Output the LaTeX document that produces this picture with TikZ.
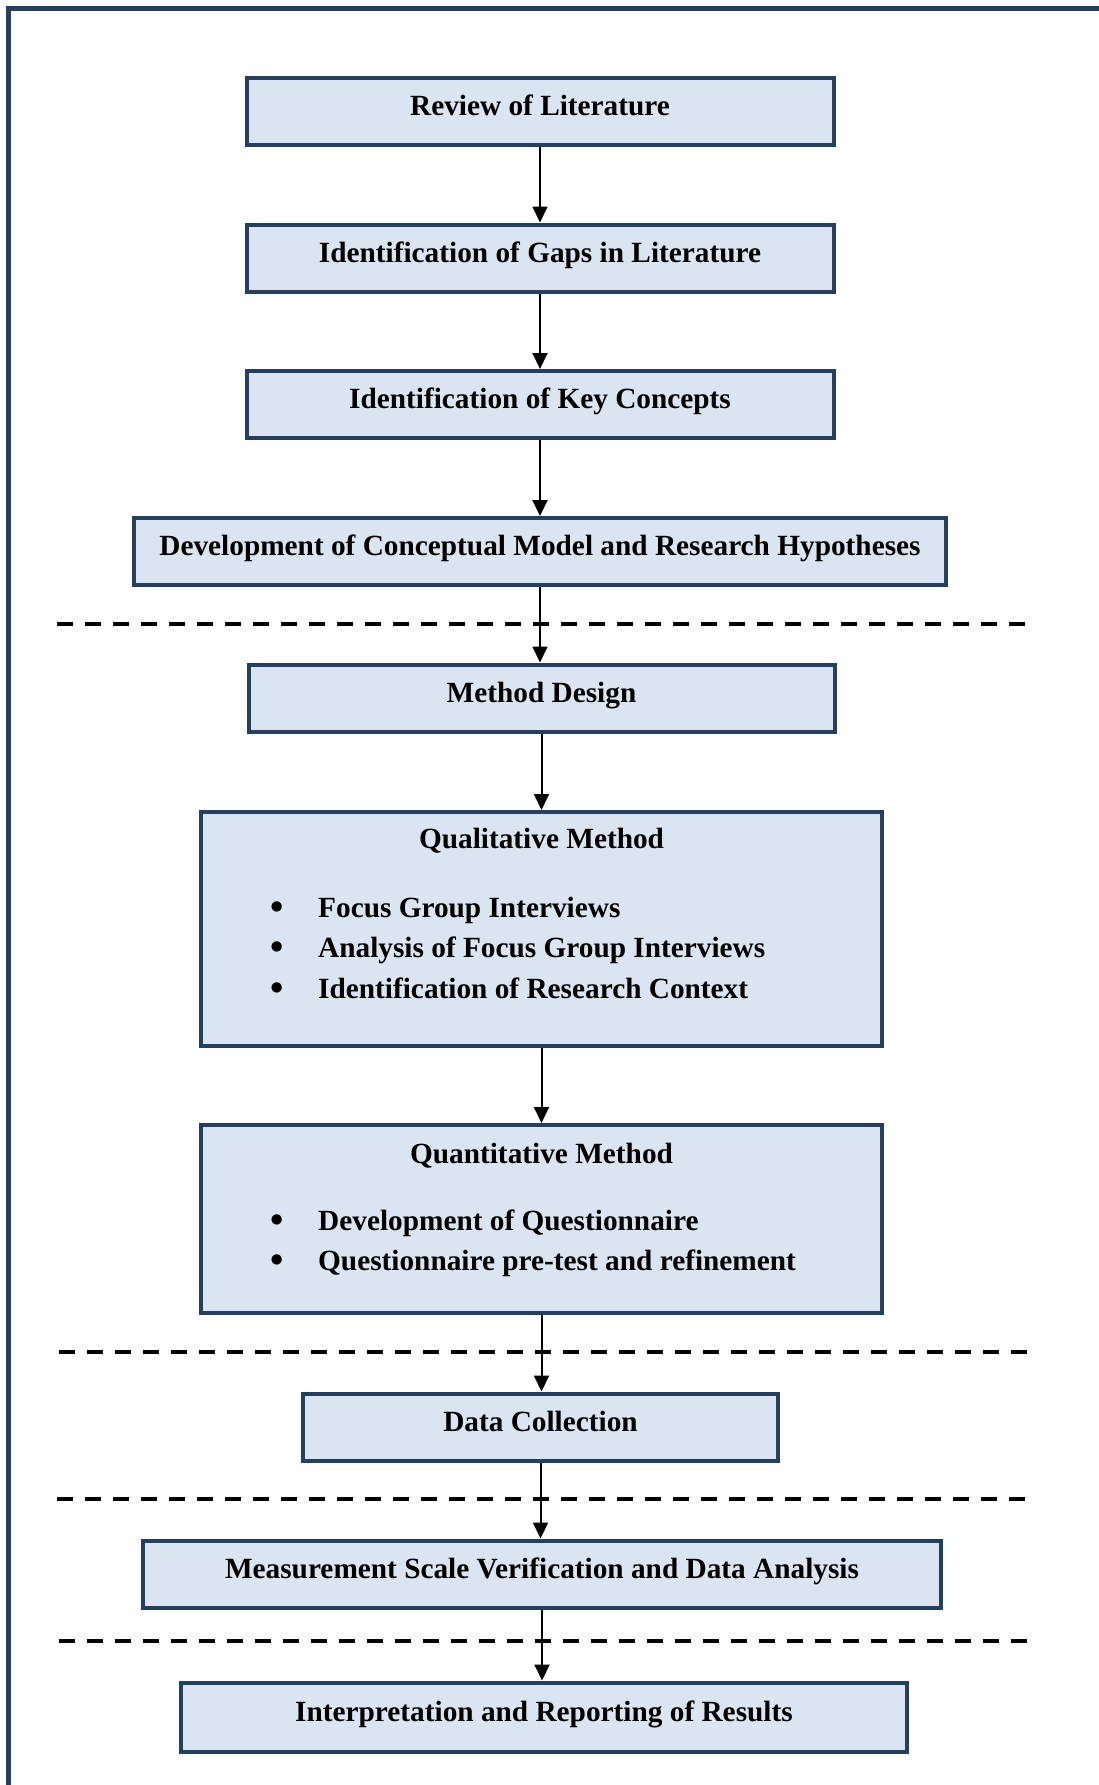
\documentclass[tikz,border=0pt]{standalone}
\usepackage{fontspec}
\setmainfont{Liberation Serif}
\usetikzlibrary{arrows.meta}

\definecolor{navy}{RGB}{36,63,96}
\definecolor{boxfill}{RGB}{219,229,241}

\begin{document}
\begin{tikzpicture}[x=1pt,y=-1pt,
  every node/.style={font=\fontsize{29.3}{35}\selectfont\bfseries},
  stepbox/.style={draw=navy, fill=boxfill, line width=4pt, rectangle,
    inner sep=0pt, text height=20pt, text depth=12pt, minimum height=67pt},
  listbox/.style={draw=navy, fill=boxfill, line width=4pt, rectangle, inner sep=0pt},
  txt/.style={inner sep=0pt, anchor=base},
  item/.style={inner sep=0pt, anchor=base west},
  dot/.style={inner sep=0pt, anchor=base, font=\fontsize{38}{40}\selectfont\bfseries},
  arr/.style={line width=2pt, -{Triangle[length=16pt,width=15pt]}},
  sep/.style={line width=4pt, dash pattern=on 16pt off 12pt},
  frame/.style={draw=navy, line width=5pt}]

\useasboundingbox (0,0) rectangle (1099,1785);

% outer frame (runs off the right and bottom edges)
\draw[frame] (8.5,1800) -- (8.5,8.5) -- (1120,8.5);

% phase separators
\draw[sep] (57,624) -- (1025,624);
\draw[sep] (59,1352) -- (1031,1352);
\draw[sep] (57,1499) -- (1025,1499);
\draw[sep] (59,1641) -- (1028,1641);

% process steps
\node[stepbox, minimum width=587pt] (b1) at (540,111) {Review of Literature};
\node[stepbox, minimum width=587pt] (b2) at (540,258) {Identification of Gaps in Literature};
\node[stepbox, minimum width=587pt] (b3) at (540,404.5) {Identification of Key Concepts};
\node[stepbox, minimum width=812pt] (b4) at (540,551.5) {Development of Conceptual Model and Research Hypotheses};
\node[stepbox, minimum width=586pt] (b5) at (541.5,698) {Method Design};

\node[listbox, minimum width=681pt, minimum height=234pt] (b6) at (541.5,929) {};
\node[txt] (b6t) at (541.5,848) {Qualitative Method};
\node[dot] (b6d1) at (277,919) {•};
\node[item] (b6i1) at (318,917) {Focus Group Interviews};
\node[dot] (b6d2) at (277,959.5) {•};
\node[item] (b6i2) at (318,957.5) {Analysis of Focus Group Interviews};
\node[dot] (b6d3) at (277,1000) {•};
\node[item] (b6i3) at (318,998) {Identification of Research Context};

\node[listbox, minimum width=681pt, minimum height=188pt] (b7) at (541.5,1219) {};
\node[txt] (b7t) at (541.5,1163) {Quantitative Method};
\node[dot] (b7d1) at (277,1232) {•};
\node[item] (b7i1) at (318,1230) {Development of Questionnaire};
\node[dot] (b7d2) at (277,1272) {•};
\node[item] (b7i2) at (318,1270) {Questionnaire pre-test and refinement};

\node[stepbox, minimum width=475pt] (b8) at (540.5,1427) {Data Collection};
\node[stepbox, minimum width=798pt] (b9) at (542,1574) {Measurement Scale Verification and Data Analysis};
\node[stepbox, minimum width=726pt, minimum height=69pt] (b10) at (544,1717) {Interpretation and Reporting of Results};

% connectors (vertical, dropped from each step onto the next)
\draw[arr] (b1.south) -- (b1.south |- b2.north);
\draw[arr] (b2.south) -- (b2.south |- b3.north);
\draw[arr] (b3.south) -- (b3.south |- b4.north);
\draw[arr] (b4.south) -- (b4.south |- b5.north);
\draw[arr] (b5.south) -- (b5.south |- b6.north);
\draw[arr] (b6.south) -- (b6.south |- b7.north);
\draw[arr] (b7.south) -- (b7.south |- b8.north);
\draw[arr] (b8.south) -- (b8.south |- b9.north);
\draw[arr] (b9.south) -- (b9.south |- b10.north);
\end{tikzpicture}
\end{document}
